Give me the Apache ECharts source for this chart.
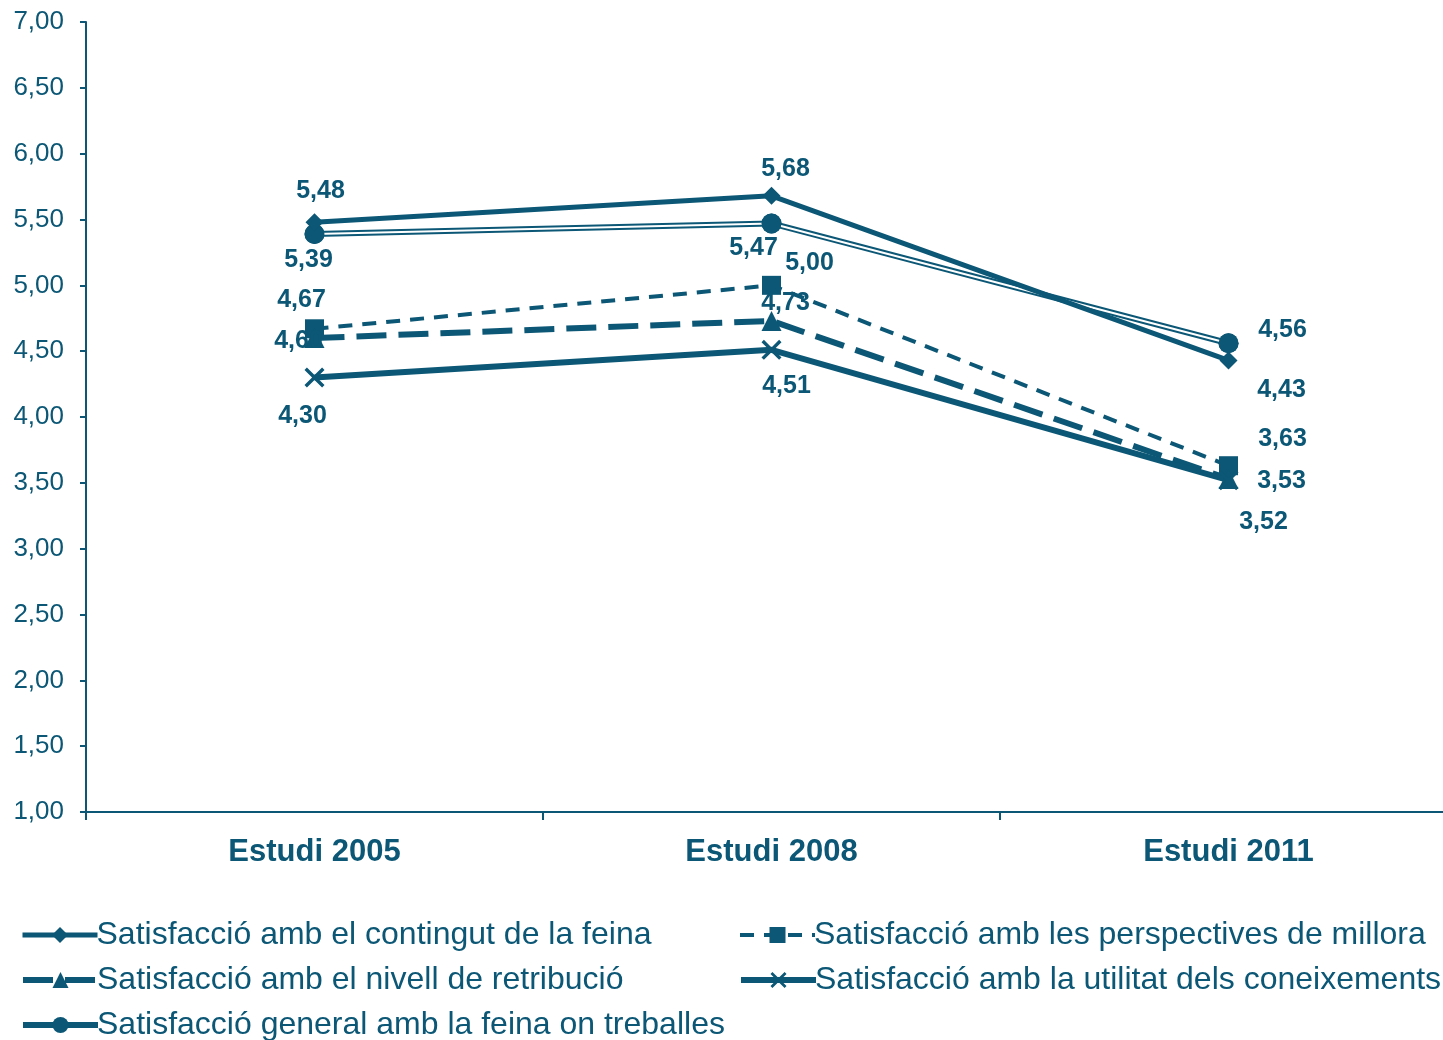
<!DOCTYPE html>
<html>
<head>
<meta charset="utf-8">
<script src="https://cdn.jsdelivr.net/npm/echarts@6/dist/echarts.min.js"></script>
<style>
  html, body { margin: 0; padding: 0; background: #fff; overflow: hidden; }
  #chart { width: 1457px; height: 1040px; }
</style>
</head>
<body>
<div id="chart"></div>
<script>
const categories = ["Estudi 2005", "Estudi 2008", "Estudi 2011"];
const contingut = [5.48, 5.68, 4.43];
const perspectives = [4.67, 5.0, 3.63];
const retribucio = [4.6, 4.73, 3.53];
const utilitat = [4.3, 4.51, 3.52];
const general = [5.39, 5.47, 4.56];

const names = [
  "Satisfacció amb el contingut de la feina",
  "Satisfacció amb les perspectives de millora",
  "Satisfacció amb el nivell de retribució",
  "Satisfacció amb la utilitat dels coneixements",
  "Satisfacció general amb la feina on treballes",
];

const C = "#0b5775";
const FONT = 'Arial, "Liberation Sans", sans-serif';

// label offsets from the marker centre, per point
const labelOffsets = {
  contingut: [[6, -31], [14, -27], [53, 30]],
  perspectives: [[-13, -29], [38, -22], [54, -27]],
  retribucio: [[-16, 3], [14, -18], [53, 2]],
  utilitat: [[-12, 39], [15, 36], [35, 42]],
  general: [[-6, 26], [-18, 25], [54, -13]],
};

function withLabels(values, offs) {
  return values.map((v, i) => ({
    value: v,
    label: { show: true, position: "inside", offset: offs[i] },
  }));
}

const fmt = (p) => p.value.toFixed(2).replace(".", ",");
const labelStyle = {
  color: C,
  fontFamily: FONT,
  fontWeight: "bold",
  fontSize: 25,
  formatter: fmt,
};

const crossPath =
  "path://M0,1.2 L1.2,0 L5,3.8 L8.8,0 L10,1.2 L6.2,5 L10,8.8 L8.8,10 L5,6.2 L1.2,10 L0,8.8 L3.8,5 Z";

const chart = echarts.init(document.getElementById("chart"));

function legendAt(name, left, top, lw) {
  return {
    data: [name],
    left: left,
    top: top,
    padding: 0,
    itemWidth: 75,
    itemHeight: 20,
    itemGap: 0,
    selectedMode: false,
    lineStyle: { width: lw },
    textStyle: { color: C, fontFamily: FONT, fontSize: 32, padding: [0, 0, 0, -6] },
  };
}

const option = {
  animation: false,
  backgroundColor: "#fff",
  grid: { left: 86, top: 22, bottom: 228, right: 0 },
  legend: [
    legendAt(names[0], 20, 919, 5),
    legendAt(names[1], 738, 919, 4),
    legendAt(names[2], 20, 964, 6),
    legendAt(names[3], 738, 964, 6),
    legendAt(names[4], 20, 1009, 6),
  ],
  xAxis: {
    type: "category",
    data: categories,
    boundaryGap: true,
    axisLine: { lineStyle: { color: C, width: 2 } },
    axisTick: { show: true, length: 8, lineStyle: { color: C, width: 2 } },
    axisLabel: {
      color: C,
      fontFamily: FONT,
      fontWeight: "bold",
      fontSize: 31,
      margin: 25,
    },
  },
  yAxis: {
    type: "value",
    min: 1,
    max: 7,
    interval: 0.5,
    splitLine: { show: false },
    axisLine: { show: true, lineStyle: { color: C, width: 2 } },
    axisTick: { show: true, length: 6, lineStyle: { color: C, width: 2 } },
    axisLabel: {
      color: C,
      fontFamily: FONT,
      fontSize: 26,
      margin: 22,
      formatter: (v) => v.toFixed(2).replace(".", ","),
    },
  },
  series: [
    {
      name: names[0],
      type: "line",
      data: withLabels(contingut, labelOffsets.contingut),
      symbol: "diamond",
      symbolSize: 18,
      itemStyle: { color: C },
      lineStyle: { color: C, width: 5 },
      label: labelStyle,
      z: 5,
    },
    {
      name: names[1],
      type: "line",
      data: withLabels(perspectives, labelOffsets.perspectives),
      symbol: "rect",
      symbolSize: 19,
      itemStyle: { color: C },
      lineStyle: { color: C, width: 4, type: [14, 10] },
      label: labelStyle,
      z: 5,
    },
    {
      name: names[2],
      type: "line",
      data: withLabels(retribucio, labelOffsets.retribucio),
      symbol: "triangle",
      symbolSize: 20,
      itemStyle: { color: C },
      lineStyle: { color: C, width: 6, type: [30, 12] },
      label: labelStyle,
      z: 5,
    },
    {
      name: names[3],
      type: "line",
      data: withLabels(utilitat, labelOffsets.utilitat),
      symbol: crossPath,
      symbolSize: 20,
      itemStyle: { color: C },
      lineStyle: { color: C, width: 6 },
      label: labelStyle,
      z: 5,
    },
    {
      name: names[4],
      type: "line",
      data: withLabels(general, labelOffsets.general),
      symbol: "circle",
      symbolSize: 20,
      itemStyle: { color: C },
      lineStyle: { color: C, width: 6 },
      label: labelStyle,
      z: 2,
    },
    {
      // white core of the double line
      name: "general-core",
      type: "line",
      data: general,
      symbol: "none",
      silent: true,
      lineStyle: { color: "#fff", width: 2 },
      z: 3,
    },
    {
      name: "general-marks",
      type: "line",
      data: general,
      symbol: "circle",
      symbolSize: 20,
      showSymbol: true,
      silent: true,
      itemStyle: { color: C },
      lineStyle: { opacity: 0 },
      z: 4,
    },
  ],
};

chart.setOption(option);
</script>
</body>
</html>
